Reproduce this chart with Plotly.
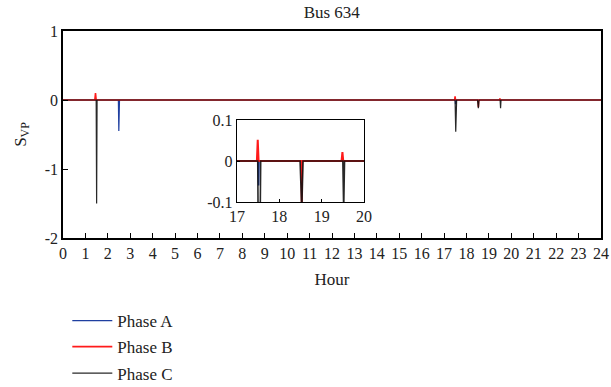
import plotly.graph_objects as go

# Phase voltage sensitivity at bus 634 over one day (hours)
phase_a_t = [0, 2.47, 2.49, 2.52, 17.50, 17.51, 17.52, 24]
phase_a_v = [0, 0, -0.45, 0, 0, -0.06, 0, 0]

phase_b_t = [0, 1.42, 1.45, 1.48, 17.47, 17.49, 17.51, 18.52, 18.53, 18.54, 19.47, 19.49, 19.51, 24]
phase_b_v = [0, 0, 0.10, 0, 0, 0.052, 0, 0, -0.105, 0, 0, 0.022, 0, 0]

phase_c_t = [0, 1.48, 1.50, 1.52, 17.49, 17.52, 17.56, 18.49, 18.53, 18.56, 19.50, 19.52, 19.54, 24]
phase_c_v = [0, 0, -1.50, 0, 0, -0.46, 0, 0, -0.12, 0, 0, -0.12, 0, 0]

main_yticks = [-2, -1, 0, 1]
main_ylabels = ["-2", "-1", "0", "1"]
main_xticks = list(range(0, 25))
inset_xticks = [17, 18, 19, 20]
inset_yticks = [-0.1, 0, 0.1]
inset_ylabels = ["-0.1", "0", "0.1"]

FONT = "Liberation Serif"
FS_TICK = 16
FS_TEXT = 17
BLUE = "#1f3fa0"
RED = "#ff1a1a"
BLACK = "#111111"

# name, times, values, colour, width, opacity, legend id (drawn in this order)
series = [
    ("Phase A", phase_a_t, phase_a_v, BLUE, 1.2, 1.0, "legend"),
    ("Phase B", phase_b_t, phase_b_v, RED, 1.6, 1.0, "legend2"),
    ("Phase C", phase_c_t, phase_c_v, BLACK, 1.2, 0.9, "legend3"),
]

fig = go.Figure()
for name, t, v, color, w, op, leg in series:
    fig.add_trace(go.Scatter(
        x=t, y=v, mode="lines", name=name, opacity=op,
        line=dict(color=color, width=w), legend=leg,
        xaxis="x", yaxis="y",
    ))
for name, t, v, color, w, op, leg in series:
    fig.add_trace(go.Scatter(
        x=t, y=v, mode="lines", name=name, opacity=op, showlegend=False,
        line=dict(color=color, width=w + 0.4),
        xaxis="x2", yaxis="y2",
    ))

axis_common = dict(
    showgrid=False, zeroline=False, showline=True, linecolor="black",
    mirror=True, ticks="inside", tickcolor="black", automargin=False,
    tickfont=dict(family=FONT, size=FS_TICK, color="#222"),
)

legend_common = dict(
    x=0.008, xanchor="left", yanchor="middle", orientation="v",
    font=dict(family=FONT, size=FS_TEXT, color="#222"), bgcolor="rgba(0,0,0,0)",
    itemwidth=40, borderwidth=0,
)

fig.update_layout(
    width=611, height=387,
    margin=dict(l=63, r=10, t=31, b=149, autoexpand=False),
    paper_bgcolor="white", plot_bgcolor="white",
    font=dict(family=FONT, size=FS_TEXT, color="#222"),
    title=dict(text="Bus 634", x=0.543, xanchor="center", y=0.985, yanchor="top",
               font=dict(family=FONT, size=FS_TEXT, color="#222")),
    xaxis=dict(
        range=[0, 24], tickvals=main_xticks, ticklen=5, linewidth=1.6,
        title=dict(text="Hour", standoff=12, font=dict(family=FONT, size=FS_TEXT)),
        **axis_common,
    ),
    yaxis=dict(
        range=[-2, 1], tickvals=main_yticks, ticktext=main_ylabels, ticklen=5,
        linewidth=1.6,
        title=dict(text="S<sub>VP</sub>", standoff=14, font=dict(family=FONT, size=FS_TEXT)),
        **axis_common,
    ),
    xaxis2=dict(
        domain=[0.3234, 0.5595], anchor="y2", range=[17, 20], tickvals=inset_xticks,
        ticklen=3, linewidth=1.4, **axis_common,
    ),
    yaxis2=dict(
        domain=[0.174, 0.570], anchor="x2", range=[-0.1, 0.1], tickvals=inset_yticks,
        ticktext=inset_ylabels, ticklen=3, linewidth=1.4, **axis_common,
    ),
    showlegend=True,
    legend=dict(y=-0.401, **legend_common),
    legend2=dict(y=-0.527, **legend_common),
    legend3=dict(y=-0.655, **legend_common),
)

fig.write_html("out.html")
